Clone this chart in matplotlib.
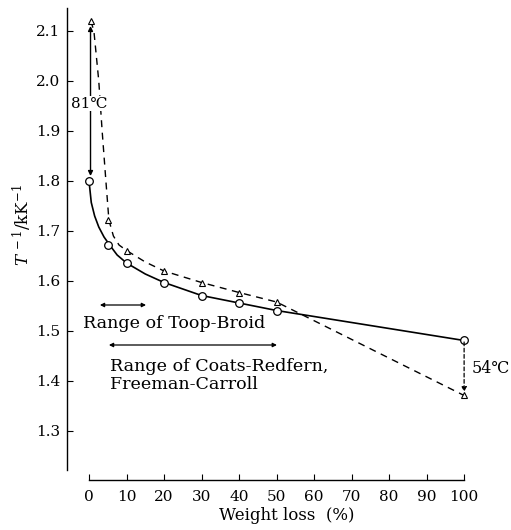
import matplotlib
matplotlib.use('Agg')
import matplotlib.pyplot as plt

plt.rcParams['font.family'] = ['DejaVu Serif']
plt.rcParams['mathtext.fontset'] = 'dejavuserif'

# Measured points: weight loss (%) vs reciprocal temperature (1/kK)
loss = [0, 5, 10, 20, 30, 40, 50, 100]
t_inv_circle = [1.80, 1.672, 1.636, 1.597, 1.571, 1.556, 1.541, 1.481]
t_inv_tri = [2.12, 1.722, 1.661, 1.620, 1.597, 1.577, 1.558, 1.371]

# Traced smooth curves through the points
solid_x = [0, 0.6, 1.5, 2.6, 4.0, 5.5, 7.5, 10, 15, 20, 30, 40, 50, 100]
solid_y = [1.80, 1.757, 1.73, 1.708, 1.688, 1.672, 1.652, 1.636, 1.614, 1.597, 1.571, 1.556, 1.541, 1.481]
dash_x = [0.5, 1.3, 2.6, 3.5, 4.5, 5.3, 6.5, 8, 10, 15, 20, 30, 40, 50, 100]
dash_y = [2.12, 2.10, 2.00, 1.90, 1.80, 1.722, 1.69, 1.672, 1.661, 1.638, 1.620, 1.597, 1.577, 1.558, 1.371]

yticks = [1.3, 1.4, 1.5, 1.6, 1.7, 1.8, 1.9, 2.0, 2.1]
xticks = [0, 10, 20, 30, 40, 50, 60, 70, 80, 90, 100]

fig = plt.figure(figsize=(5.11, 5.30), dpi=100)
ax = fig.add_axes([67 / 511, 50 / 530, 444 / 511, 475 / 530])
ax.set_xlim(-5.87, 112.5)
ax.set_ylim(1.202, 2.152)

ax.plot(solid_x, solid_y, color='black', lw=1.2)
ax.plot(dash_x, dash_y, color='black', lw=1.0, ls=(0, (5, 4)))
ax.plot(loss, t_inv_circle, 'o', ms=5.5, mfc='white', mec='black', mew=0.9)
ax.plot([l + 0.6 if l == 0 else l for l in loss], t_inv_tri, '^', ms=4, mfc='white', mec='black', mew=0.8)

# Temperature differences at both ends
ax.annotate('', xy=(0.4, 2.11), xytext=(0.4, 1.81),
            arrowprops=dict(arrowstyle='<|-|>', color='black', lw=1.0,
                            mutation_scale=7, shrinkA=0, shrinkB=0))
ax.text(0.0, 1.955, '81\u2103', ha='center', va='center', fontsize=11,
        bbox=dict(facecolor='white', edgecolor='none', pad=0.3))
ax.annotate('', xy=(100, 1.378), xytext=(100, 1.478),
            arrowprops=dict(arrowstyle='-|>', color='black', lw=0.9, ls=(0, (3, 2)),
                            mutation_scale=7, shrinkA=0, shrinkB=0))
ax.text(102, 1.425, '54\u2103', ha='left', va='center', fontsize=11.5)

# Ranges used by each method
ax.annotate('', xy=(2.9, 1.552), xytext=(15.2, 1.552),
            arrowprops=dict(arrowstyle='<|-|>', color='black', lw=0.9,
                            mutation_scale=6, shrinkA=0, shrinkB=0))
ax.text(-1.7, 1.515, 'Range of Toop-Broid', ha='left', va='center', fontsize=12.6)
ax.annotate('', xy=(5.3, 1.472), xytext=(50.1, 1.472),
            arrowprops=dict(arrowstyle='<|-|>', color='black', lw=0.9,
                            mutation_scale=6, shrinkA=0, shrinkB=0))
ax.text(5.5, 1.411, 'Range of Coats-Redfern,\nFreeman-Carroll', ha='left',
        va='center', fontsize=12.6, linespacing=1.1)

for side in ['top', 'right']:
    ax.spines[side].set_visible(False)
ax.spines['left'].set_bounds(1.222, 2.146)
ax.spines['bottom'].set_bounds(0, 100)
ax.spines['left'].set_linewidth(1.0)
ax.spines['bottom'].set_linewidth(1.0)

ax.set_yticks(yticks)
ax.set_yticklabels([f'{v:.1f}' for v in yticks])
ax.set_xticks(xticks)
ax.tick_params(direction='in', length=4, width=0.8, labelsize=11)
ax.tick_params(axis='x', pad=7)
ax.tick_params(axis='y', pad=5)

fig.text(287 / 511, 15 / 530, 'Weight loss  (%)', ha='center', va='center', fontsize=12)
fig.text(22 / 511, 1 - 225 / 530, r'$T^{\,-1}$/kK$^{-1}$', ha='center', va='center',
         rotation=90, fontsize=12)

fig.savefig('out.png', dpi=100)
